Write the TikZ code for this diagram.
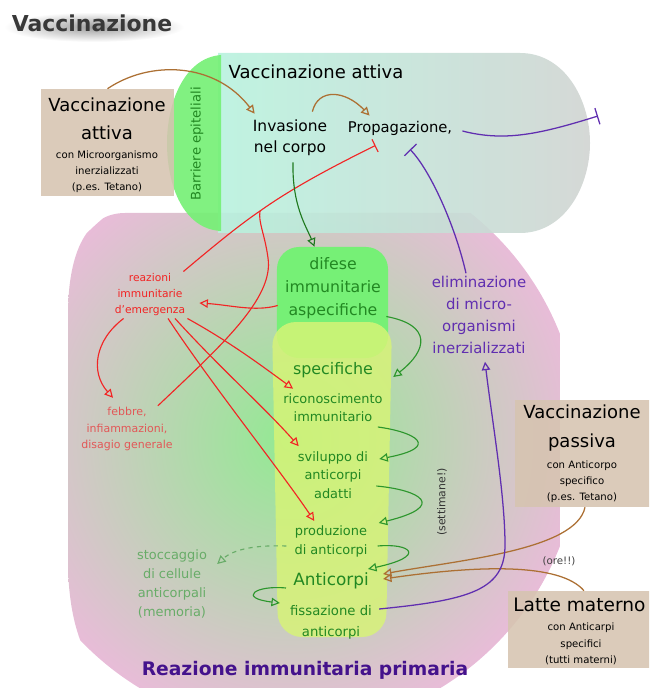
\documentclass[tikz,border=0pt]{standalone}
\usepackage{fontspec}
\setmainfont{DejaVu Sans}
\usetikzlibrary{arrows.meta,calc}

\definecolor{tanbox}{RGB}{214,196,176}
\definecolor{mintreg}{RGB}{184,242,222}
\definecolor{grayreg}{RGB}{208,212,210}
\definecolor{barrgreen}{RGB}{118,240,118}
\definecolor{pinkreg}{RGB}{232,188,216}
\definecolor{greenreg}{RGB}{146,234,146}
\definecolor{difgreen}{RGB}{118,240,118}
\definecolor{yelcol}{RGB}{216,244,118}
\definecolor{txtgreen}{RGB}{34,136,34}
\definecolor{arrgreen}{RGB}{44,150,44}
\definecolor{memgreen}{RGB}{104,172,104}
\definecolor{redc}{RGB}{242,36,36}
\definecolor{febred}{RGB}{226,88,88}
\definecolor{purc}{RGB}{96,46,176}
\definecolor{purtitle}{RGB}{68,18,140}
\definecolor{brownc}{RGB}{172,112,52}

\newcommand{\fsz}[2]{\fontsize{#1}{#2}\selectfont}

\tikzset{
  lbl/.style={align=center, inner sep=0pt},
  tanrect/.style={fill=tanbox, fill opacity=0.88, inner sep=0pt},
  brarr/.style={draw=brownc, line width=0.9pt, -{Triangle[open,length=6pt,width=6pt]}},
  rdarr/.style={draw=redc, line width=0.8pt, -{Triangle[open,length=6pt,width=6pt]}},
  rdline/.style={draw=redc, line width=0.8pt},
  rdbar/.style={draw=redc, line width=0.8pt, -{Bar[width=10pt]}},
  gnarr/.style={draw=arrgreen, line width=0.8pt, -{Triangle[open,length=6pt,width=6pt]}},
  ppbar/.style={draw=purc, line width=0.9pt, -{Bar[width=12pt]}},
  pparr/.style={draw=purc, line width=0.9pt, -{Triangle[open,length=6pt,width=6pt]}}
}

\begin{document}
\begin{tikzpicture}[x=0.025cm, y=-0.025cm]
  %%%%% START %%%%%
  \clip (0,0) rectangle (649,688);

  % reazione primaria (sfondo)
  \begin{scope}
    \clip (125,213) .. controls (88,213) and (68,250) .. (68,315) -- (68,560)
      .. controls (68,640) and (95,690) .. (140,695) -- (500,695)
      .. controls (540,670) and (560,620) .. (560,540) -- (560,345)
      .. controls (560,270) and (540,213) .. (480,213) -- cycle;
    \shade[inner color=greenreg, outer color=pinkreg] (290,440) circle (290);
  \end{scope}

  % vaccinazione attiva (sfondo)
  \shade[left color=mintreg, right color=grayreg, fill opacity=0.9]
    (218,53) -- (520,53) .. controls (565,53) and (590,100) .. (590,143)
    .. controls (590,186) and (565,233) .. (520,233) -- (218,233) -- cycle;
  \fill[barrgreen, fill opacity=0.92] (221,55) .. controls (183,58) and (167,105) .. (167,143)
    .. controls (167,185) and (183,229) .. (221,231) -- cycle;

  % difese / specifiche
  \node[fill=difgreen, rounded corners=0.55cm, inner sep=0pt,
    minimum width=2.775cm, minimum height=2.775cm] (difese) at (332.5,302.5) {};
  \fill[yelcol, fill opacity=0.82, rounded corners=0.6cm]
    (272,322) -- (392,322) -- (386,637) -- (278,637) -- cycle;

  % riquadri
  \node[tanrect, minimum width=3.325cm, minimum height=2.675cm] (vattbox) at (107.5,142.5) {};
  \node[tanrect, minimum width=3.5cm, minimum height=2.675cm] (passbox) at (585,453.5) {};
  \node[tanrect, minimum width=3.8cm, minimum height=1.925cm] (lattebox) at (584,629.5) {};

  % titolo (ombra sfumata)
  \shade[inner color=black!38, outer color=white] (94,27) ellipse (90 and 15);
  \node[lbl, text=black!78, font=\fsz{15.6}{18}\bfseries] (ttl) at (92,23) {Vaccinazione};

  % testi
  \node[lbl, font=\fsz{12.8}{20}] (hdatt) at (316,72) {Vaccinazione attiva};
  \node[lbl, text=txtgreen, rotate=90, font=\fsz{9.4}{11}] (barr) at (197,144) {Barriere epiteliali};
  \node[lbl, font=\fsz{11}{15}] (inv) at (290,138) {Invasione\\nel corpo};
  \node[lbl, font=\fsz{10.5}{12}] (prop) at (400,128) {Propagazione,};

  \node[lbl, font=\fsz{12.8}{20}] (vatttxt) at (107,119) {Vaccinazione\\attiva};
  \node[lbl, font=\fsz{7.2}{11.4}] (vattsub) at (107,172) {con Microorganismo\\inerzializzati\\(p.es. Tetano)};
  \node[lbl, font=\fsz{12.8}{20}] (passtxt) at (582,428) {Vaccinazione\\passiva};
  \node[lbl, font=\fsz{7.2}{11.4}] (passsub) at (582,482) {con Anticorpo\\specifico\\(p.es. Tetano)};
  \node[lbl, font=\fsz{13.2}{16}, anchor=west] (lattetxt) at (513,605) {Latte materno};
  \node[lbl, font=\fsz{7.2}{11.6}] (lattesub) at (581,644) {con Anticarpi\\specifici\\(tutti materni)};

  \node[lbl, text=redc, font=\fsz{7.6}{11.4}] (reaz) at (150,295) {reazioni\\immunitarie\\d'emergenza};
  \node[lbl, text=febred, font=\fsz{7.8}{11.8}] (febbre) at (127,429) {febbre,\\infiammazioni,\\disagio generale};

  \node[lbl, text=txtgreen, font=\fsz{11.2}{16.2}] (difesetxt) at (333,288) {difese\\immunitarie\\aspecifiche};
  \node[lbl, text=txtgreen, font=\fsz{11.3}{13}] (specif) at (333,370) {specifiche};
  \node[lbl, text=txtgreen, font=\fsz{9.2}{12.8}] (ricon) at (333,408) {riconoscimento\\immunitario};
  \node[lbl, text=txtgreen, font=\fsz{9.2}{13.2}] (sv) at (333,475) {sviluppo di\\anticorpi\\adatti};
  \node[lbl, text=txtgreen, font=\fsz{9.2}{13.5}] (prod) at (331,541) {produzione\\di anticorpi};
  \node[lbl, text=txtgreen, font=\fsz{12}{14}] (anti) at (331,581) {Anticorpi};
  \node[lbl, text=txtgreen, font=\fsz{9.4}{15}] (fiss) at (331,622) {fissazione di\\anticorpi};
  \node[lbl, text=memgreen, font=\fsz{9.2}{13.7}] (stocc) at (172,584) {stoccaggio\\di cellule\\anticorpali\\(memoria)};
  \node[lbl, text=purc, font=\fsz{10.6}{15.5}] (elim) at (479,315) {eliminazione\\di micro-\\organismi\\inerzializzati};

  \node[lbl, text=black!80, rotate=90, font=\fsz{7.7}{9}] (settim) at (442,502) {(settimane!)};
  \node[lbl, text=black!75, font=\fsz{7.3}{9}] (ore) at (559,561) {(ore!!)};
  \node[lbl, text=purtitle, font=\fsz{13.3}{16}\bfseries] (reaztit) at (305,670) {Reazione immunitaria primaria};

  % frecce marroni
  \draw[brarr] (vattbox.north) .. controls (150,60) and (215,62) .. ($(inv.north west)+(2,-6)$);
  \draw[brarr] ($(inv.north east)+(-15,-8)$) .. controls (318,88) and (345,90) .. ($(prop.north west)+(22,-5)$);
  \draw[brarr] (passbox.south) .. controls (576,550) and (460,560) .. ($(anti.east)+(14,-7)$);
  \draw[brarr] (lattebox.north) .. controls (560,563) and (480,565) .. ($(anti.east)+(14,-2)$);

  % linee viola
  \coordinate (propend) at (598,116);
  \draw[ppbar] ($(prop.east)+(10,3)$) .. controls (505,142) and (540,134) .. (propend);
  \draw[ppbar] ($(elim.north)+(-13,-3)$) .. controls (455,225) and (430,170) .. ($(prop.south)+(10,14)$);
  \draw[pparr] ($(fiss.east)+(7,-13)$) .. controls (470,600) and (505,590) .. (505,545)
    .. controls (505,495) and (492,420) .. ($(elim.south)+(6,8)$);

  % linee rosse
  \coordinate (redjoin) at (260,211);
  \draw[rdbar] ($(reaz.north east)+(-2,-2)$) .. controls (215,245) and (238,226) .. (redjoin)
    .. controls (295,186) and (340,163) .. ($(prop.south west)+(28,10)$);
  \draw[rdline] ($(febbre.north east)+(-15,-1)$) .. controls (222,345) and (274,298) .. (268,258)
    .. controls (265,235) and (258,222) .. (redjoin);
  \draw[rdarr] ($(difese.west)+(1,3)$) .. controls (255,312) and (230,305) .. ($(reaz.east)+(14,8)$);
  \draw[rdarr] ($(reaz.south west)+(9,2)$) .. controls (95,340) and (90,372) .. ($(febbre.north)+(-14,-9)$);
  \draw[rdarr] ($(reaz.south east)+(2,2)$) .. controls (230,342) and (262,366) .. ($(ricon.north west)+(10,-5)$);
  \draw[rdarr] ($(reaz.south)+(25,2)$) .. controls (220,368) and (265,408) .. ($(sv.north west)+(1,-5)$);
  \draw[rdarr] ($(reaz.south)+(18,2)$) .. controls (212,385) and (280,470) .. ($(prod.north west)+(20,-4)$);

  % frecce verdi
  \draw[gnarr, draw=txtgreen!90!black] ($(inv.south)+(3,6)$) .. controls (292,205) and (306,226) .. ($(difese.north)+(-18,0)$);
  \draw[gnarr] ($(difese.east)+(-2,14)$) .. controls (432,325) and (428,350) .. ($(specif.east)+(20,7)$);
  \draw[gnarr] ($(ricon.east)+(-5,19)$) .. controls (415,432) and (442,447) .. ($(sv.east)+(11,-16)$);
  \draw[gnarr] ($(sv.east)+(8,11)$) .. controls (420,490) and (448,506) .. ($(prod.east)+(11,-18)$);
  \draw[gnarr] ($(prod.east)+(10,5)$) .. controls (410,543) and (428,556) .. ($(anti.east)+(-1,-12)$);
  \draw[gnarr] ($(anti.west)+(-7,7)$) .. controls (255,585) and (238,598) .. ($(fiss.west)+(-10,-19)$);
  \draw[gnarr, draw=memgreen, dashed] ($(prod.west)+(-8,5)$) .. controls (260,545) and (235,548) .. ($(stocc.east)+(10,-20)$);
  %%%%% END %%%%%
\end{tikzpicture}
\end{document}
